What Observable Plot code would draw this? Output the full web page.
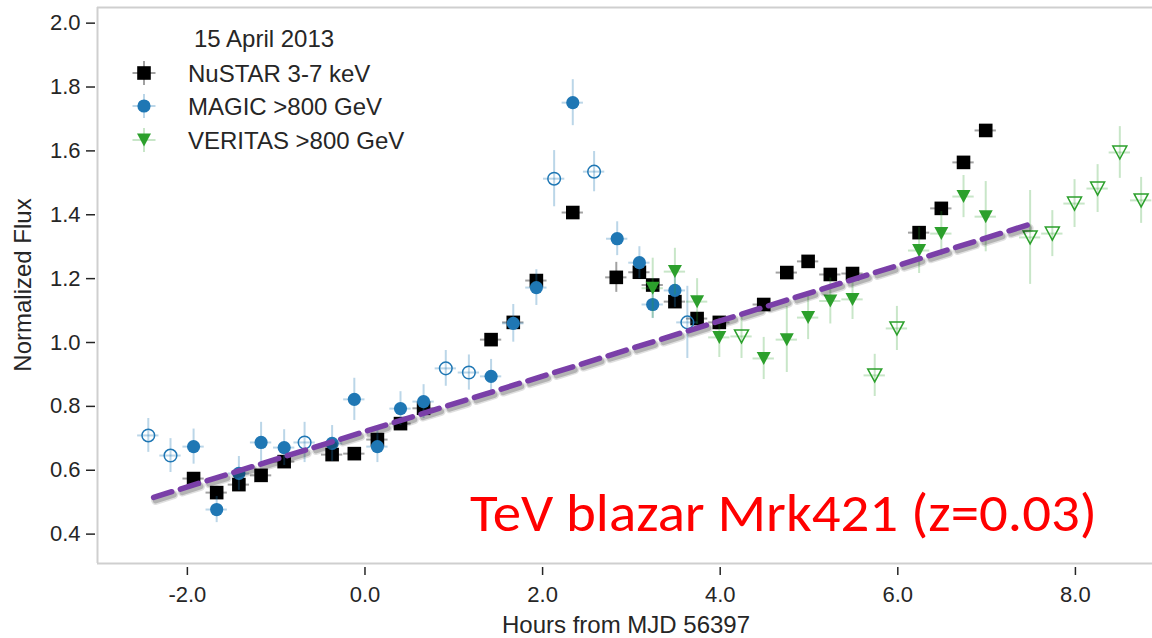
<!DOCTYPE html>
<html>
<head>
<meta charset="utf-8">
<script src="https://cdn.jsdelivr.net/npm/d3@7"></script>
<script src="https://cdn.jsdelivr.net/npm/@observablehq/plot@0.6"></script>
<style>
  html, body { margin: 0; padding: 0; background: #fff; }
  #chart svg { display: block; }
</style>
</head>
<body>
<div id="chart"></div>
<script>
// ---------- data ----------
const legendTitle = "15 April 2013";
const seriesNames = ["NuSTAR 3-7 keV", "MAGIC >800 GeV", "VERITAS >800 GeV"];
const xTitle = "Hours from MJD 56397";
const yTitle = "Normalized Flux";
const annotation = "TeV blazar Mrk421 (z=0.03)";

const xTicks = [-2, 0, 2, 4, 6, 8];
const yTicks = [0.4, 0.6, 0.8, 1.0, 1.2, 1.4, 1.6, 1.8, 2.0];

const binHalfWidth = 0.12; // hours, horizontal error bars

const nustarX = [-1.93,-1.67,-1.42,-1.17,-0.91,-0.37,-0.12,0.14,0.40,0.66,1.42,1.67,1.93,2.34,2.83,3.09,3.24,3.49,3.74,3.99,4.49,4.75,4.99,5.24,5.49,6.24,6.49,6.74,6.99];
const nustarY = [0.574,0.530,0.555,0.584,0.627,0.649,0.652,0.696,0.746,0.794,1.009,1.063,1.194,1.407,1.204,1.220,1.180,1.128,1.075,1.063,1.119,1.219,1.254,1.213,1.216,1.344,1.420,1.564,1.664];
const nustarErr = [0.012,0.012,0.012,0.012,0.012,0.012,0.012,0.012,0.012,0.012,0.012,0.015,0.015,0.015,0.047,0.015,0.015,0.015,0.015,0.015,0.015,0.015,0.015,0.015,0.015,0.015,0.015,0.015,0.015];

const magicX = [-2.44,-2.19,-1.93,-1.67,-1.42,-1.17,-0.91,-0.68,-0.37,-0.12,0.14,0.40,0.66,0.91,1.17,1.42,1.67,1.93,2.13,2.34,2.58,2.84,3.09,3.24,3.49,3.63];
const magicY = [0.709,0.646,0.674,0.477,0.590,0.687,0.671,0.687,0.684,0.822,0.674,0.793,0.815,0.919,0.906,0.894,1.060,1.172,1.513,1.751,1.535,1.325,1.250,1.119,1.163,1.063];
const magicErr = [0.053,0.053,0.055,0.041,0.053,0.063,0.056,0.063,0.056,0.066,0.050,0.053,0.053,0.056,0.055,0.053,0.059,0.056,0.088,0.072,0.063,0.053,0.050,0.044,0.053,0.113];
const magicOpen = [1,1,0,0,0,0,0,1,0,0,0,0,0,1,1,0,0,0,1,0,1,0,0,0,0,1];

const veritasX = [3.24,3.49,3.74,3.99,4.24,4.49,4.75,4.99,5.24,5.49,5.74,5.99,6.24,6.49,6.74,6.99,7.49,7.74,7.99,8.25,8.50,8.74];
const veritasY = [1.170,1.222,1.128,1.016,1.019,0.950,1.009,1.078,1.130,1.135,0.897,1.044,1.288,1.341,1.457,1.394,1.329,1.341,1.435,1.482,1.595,1.445];
const veritasErr = [0.094,0.073,0.072,0.063,0.069,0.066,0.103,0.069,0.072,0.063,0.066,0.069,0.072,0.069,0.066,0.110,0.147,0.072,0.075,0.075,0.081,0.072];
const veritasOpen = [0,0,0,0,1,0,0,0,0,0,1,1,0,0,0,0,1,1,1,1,1,1];

const trendX = [-2.38, 7.52];
const trendY = [0.515, 1.373];

// ---------- build tables ----------
const rows = (xs, ys, es, flags) => xs.map((x, i) => ({x, y: ys[i], e: es[i], open: flags ? flags[i] === 1 : false}));
const nustar = rows(nustarX, nustarY, nustarErr);
const magic = rows(magicX, magicY, magicErr, magicOpen);
const veritas = rows(veritasX, veritasY, veritasErr, veritasOpen);
const trend = trendX.map((x, i) => ({x, y: trendY[i]}));

// ---------- styles ----------
const C = {
  nustar: "#000000", nustarBar: "#000000", nustarBarOpacity: 0.37,
  magic: "#1f77b4", magicBar: "#1f77b4", magicBarOpacity: 0.3,
  veritas: "#2ca02c", veritasBar: "#2ca02c", veritasBarOpacity: 0.26,
  trend: "#7a3fa8", spine: "#cfcfcf", text: "#262626"
};
const squareSym = {draw(c) { const s = 6.8; c.moveTo(-s, -s); c.lineTo(s, -s); c.lineTo(s, s); c.lineTo(-s, s); c.closePath(); }};
const triDownSym = {draw(c) { c.moveTo(-7, -6.5); c.lineTo(7, -6.5); c.lineTo(0, 6.5); c.closePath(); }};

const xDomain = [-3.012, 8.868];
const yDomain = [0.308, 2.049];

function errorMarks(data, barColor, opacity) {
  return [
    Plot.ruleY(data, {y: "y", x1: d => d.x - binHalfWidth, x2: d => d.x + binHalfWidth, stroke: barColor, strokeOpacity: opacity, strokeWidth: 2}),
    Plot.ruleX(data, {x: "x", y1: d => d.y - d.e, y2: d => d.y + d.e, stroke: barColor, strokeOpacity: opacity, strokeWidth: 2})
  ];
}

const fontFamily = '"Liberation Sans", Arial, Helvetica, sans-serif';

const chart = Plot.plot({
  width: 1152,
  height: 638,
  marginLeft: 97,
  marginTop: 7,
  marginBottom: 75,
  marginRight: 0,
  x: {domain: xDomain},
  y: {domain: yDomain},
  style: {fontFamily, fontSize: "22px", color: C.text, background: "#fff", overflow: "visible"},
  marks: [
    Plot.ruleX([xDomain[0]], {stroke: C.spine, strokeWidth: 2}),
    Plot.ruleY([yDomain[0]], {stroke: C.spine, strokeWidth: 2}),
    Plot.ruleY([yDomain[1]], {stroke: C.spine, strokeWidth: 2}),
    Plot.axisX({ticks: xTicks, tickFormat: d => d.toFixed(1), tickSize: 8, tickPadding: 11, dy: 4, strokeWidth: 1.5, label: null}),
    Plot.axisY({ticks: yTicks, tickFormat: d => d.toFixed(1), tickSize: 9, tickPadding: 6, dx: -2, strokeWidth: 1.5, label: null}),
    // NuSTAR
    ...errorMarks(nustar, C.nustarBar, C.nustarBarOpacity),
    Plot.dot(nustar, {x: "x", y: "y", symbol: squareSym, r: 6, fill: C.nustar}),
    // MAGIC
    ...errorMarks(magic, C.magicBar, C.magicBarOpacity),
    Plot.dot(magic.filter(d => !d.open), {x: "x", y: "y", r: 6.6, fill: C.magic}),
    Plot.dot(magic.filter(d => d.open), {x: "x", y: "y", r: 6.3, fill: "none", stroke: C.magic, strokeWidth: 1.5}),
    // VERITAS
    ...errorMarks(veritas, C.veritasBar, C.veritasBarOpacity),
    Plot.dot(veritas.filter(d => !d.open), {x: "x", y: "y", symbol: triDownSym, r: 6, fill: C.veritas}),
    Plot.dot(veritas.filter(d => d.open), {x: "x", y: "y", symbol: triDownSym, r: 6, fill: "none", stroke: C.veritas, strokeWidth: 1.5}),
    // trend line with a soft shadow underneath
    Plot.line(trend, {x: "x", y: "y", stroke: "#000", strokeOpacity: 0.12, strokeWidth: 9, strokeDasharray: "19,9", dx: 2, dy: 3}),
    Plot.line(trend, {x: "x", y: "y", stroke: "#000", strokeOpacity: 0.2, strokeWidth: 6, strokeDasharray: "19,9", dx: 2, dy: 3}),
    Plot.line(trend, {x: "x", y: "y", stroke: C.trend, strokeWidth: 5.5, strokeDasharray: "19,9"})
  ]
});

document.getElementById("chart").appendChild(chart);
const svg = d3.select(chart);

// axis titles
svg.append("text")
  .attr("x", 626).attr("y", 633)
  .attr("text-anchor", "middle")
  .attr("font-family", fontFamily).attr("font-size", 24).attr("fill", C.text)
  .text(xTitle);
svg.append("text")
  .attr("transform", "translate(31,285) rotate(-90)")
  .attr("text-anchor", "middle")
  .attr("font-family", fontFamily).attr("font-size", 24).attr("fill", C.text)
  .text(yTitle);

// legend
const lg = svg.append("g").attr("font-family", fontFamily).attr("font-size", 24).attr("fill", C.text).attr("text-anchor", "start");
lg.append("text").attr("x", 194).attr("y", 47).text(legendTitle);
const legendRows = [
  {name: seriesNames[0], bar: C.nustarBar, op: C.nustarBarOpacity, draw: g => g.append("path").attr("d", d3.symbol().type(squareSym)()).attr("fill", C.nustar)},
  {name: seriesNames[1], bar: C.magicBar, op: C.magicBarOpacity, draw: g => g.append("circle").attr("r", 6.6).attr("fill", C.magic)},
  {name: seriesNames[2], bar: C.veritasBar, op: C.veritasBarOpacity, draw: g => g.append("path").attr("d", d3.symbol().type(triDownSym)()).attr("fill", C.veritas)}
];
const rowY = [73, 106, 140];
legendRows.forEach((r, i) => {
  const g = lg.append("g").attr("transform", `translate(144,${rowY[i]})`);
  g.append("line").attr("x1", -11.5).attr("x2", 11.5).attr("stroke", r.bar).attr("stroke-opacity", r.op).attr("stroke-width", 2);
  g.append("line").attr("y1", -12).attr("y2", 12).attr("stroke", r.bar).attr("stroke-opacity", r.op).attr("stroke-width", 2);
  r.draw(g);
  lg.append("text").attr("x", 188).attr("y", rowY[i] + 8.5).text(r.name);
});

// annotation
svg.append("text")
  .attr("x", 470).attr("y", 531)
  .attr("text-anchor", "start")
  .attr("font-family", 'Carlito, Calibri, Lato, "Open Sans", sans-serif')
  .attr("font-size", 54)
  .attr("fill", "#ff0000")
  .attr("textLength", 627)
  .attr("lengthAdjust", "spacingAndGlyphs")
  .text(annotation);
</script>
</body>
</html>
